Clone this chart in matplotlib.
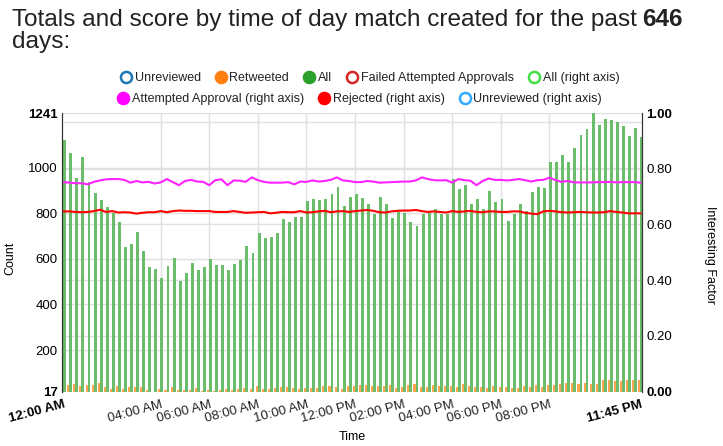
import matplotlib
matplotlib.use("Agg")
from matplotlib import pyplot as plt
from matplotlib.lines import Line2D
import numpy as np

plt.rcParams['font.family'] = ['Liberation Sans', 'DejaVu Sans']

# green bars, 96 quarter hour slots
all_counts = [1123, 1065, 956, 1047, 940, 889, 861, 830, 802, 761, 654, 665, 717, 634, 564, 555,
              517, 569, 603, 503, 540, 583, 553, 565, 599, 574, 572, 552, 578, 596, 656, 624,
              716, 691, 697, 714, 776, 761, 783, 785, 854, 862, 861, 862, 884, 917, 832, 874,
              887, 867, 843, 799, 873, 843, 779, 808, 802, 764, 745, 796, 802, 818, 799, 796,
              952, 906, 924, 842, 864, 818, 898, 852, 862, 767, 798, 840, 811, 896, 918, 912,
              1026, 1026, 1056, 1024, 1088, 1144, 1172, 1241, 1189, 1216, 1211, 1202, 1185, 1141, 1174, 1136]
retweeted = [61, 48, 52, 42, 48, 48, 57, 36, 30, 42, 30, 36, 36, 36, 26, 15,
             29, 26, 36, 26, 26, 26, 35, 21, 26, 21, 26, 30, 24, 30, 35, 30,
             43, 30, 30, 35, 39, 38, 35, 29, 33, 33, 35, 42, 42, 38, 27, 43,
             42, 48, 48, 42, 42, 43, 48, 35, 39, 48, 52, 39, 38, 48, 42, 42,
             43, 36, 49, 40, 38, 38, 35, 43, 39, 39, 35, 35, 42, 36, 46, 39,
             48, 46, 52, 57, 57, 51, 57, 52, 52, 68, 70, 65, 65, 70, 70, 68]
attempted = [0.752, 0.750, 0.748, 0.748, 0.744, 0.753, 0.758, 0.762, 0.763, 0.763, 0.760, 0.750,
             0.756, 0.751, 0.753, 0.747, 0.751, 0.763, 0.752, 0.741, 0.756, 0.760, 0.754, 0.753,
             0.741, 0.759, 0.762, 0.741, 0.758, 0.757, 0.753, 0.769, 0.759, 0.753, 0.750, 0.750,
             0.750, 0.752, 0.744, 0.754, 0.753, 0.758, 0.754, 0.756, 0.760, 0.769, 0.758, 0.756,
             0.752, 0.752, 0.756, 0.754, 0.750, 0.751, 0.752, 0.753, 0.754, 0.754, 0.758, 0.769,
             0.763, 0.759, 0.758, 0.759, 0.750, 0.763, 0.759, 0.757, 0.741, 0.756, 0.765, 0.760,
             0.760, 0.758, 0.760, 0.763, 0.759, 0.754, 0.759, 0.760, 0.768, 0.759, 0.753, 0.756,
             0.751, 0.751, 0.751, 0.751, 0.752, 0.752, 0.753, 0.751, 0.752, 0.752, 0.752, 0.750]
rejected = [0.647, 0.647, 0.645, 0.644, 0.645, 0.648, 0.653, 0.645, 0.648, 0.643, 0.644, 0.643,
            0.639, 0.642, 0.644, 0.644, 0.648, 0.644, 0.648, 0.650, 0.649, 0.649, 0.648, 0.648,
            0.648, 0.645, 0.645, 0.645, 0.648, 0.645, 0.642, 0.643, 0.644, 0.645, 0.640, 0.642,
            0.645, 0.644, 0.644, 0.648, 0.643, 0.644, 0.647, 0.649, 0.644, 0.647, 0.648, 0.645,
            0.648, 0.650, 0.652, 0.649, 0.644, 0.643, 0.647, 0.649, 0.650, 0.650, 0.652, 0.648,
            0.645, 0.647, 0.645, 0.643, 0.648, 0.645, 0.647, 0.649, 0.645, 0.644, 0.647, 0.647,
            0.645, 0.645, 0.647, 0.647, 0.642, 0.639, 0.637, 0.647, 0.649, 0.647, 0.644, 0.643,
            0.644, 0.645, 0.644, 0.643, 0.643, 0.644, 0.648, 0.645, 0.643, 0.640, 0.640, 0.640]

tick_hours = [0, 4, 6, 8, 10, 12, 14, 16, 18, 20, 23.75]
tick_labels = ["12:00 AM", "04:00 AM", "06:00 AM", "08:00 AM", "10:00 AM", "12:00 PM",
               "02:00 PM", "04:00 PM", "06:00 PM", "08:00 PM", "11:45 PM"]
y_ticks = [17, 200, 400, 600, 800, 1000, 1200, 1241]
y_labels = ["17", "200", "400", "600", "800", "1000", "", "1241"]
y2_ticks = [0, 0.2, 0.4, 0.6, 0.8, 1.0]

GRID = "#e0e0e0"
TXT = "#222222"

fig = plt.figure(figsize=(7.23, 4.46), dpi=100)
W, H = 723, 446
ax = fig.add_axes([62 / W, 1 - 391.7 / H, 580 / W, 278.7 / H])
ax2 = ax.twinx()

x = np.arange(len(all_counts))
ax.bar(x - 0.15, retweeted, width=0.45, color="#ffa552", zorder=2)
ax.bar(x + 0.2, all_counts, width=0.48, color="#6bbc6b", zorder=2)

ax.set_xlim(-0.25, 95.25)
ax.set_ylim(17, 1241)
ax2.set_ylim(0, 1)

# grid: left ticks, right ticks (mapped onto left scale), and 2h verticals
for v in y_ticks[1:]:
    ax.axhline(v, color=GRID, lw=1, zorder=0)
for r in y2_ticks[1:-1]:
    ax.axhline(17 + r * (1241 - 17), color=GRID, lw=1, zorder=0)
tick_pos = [h * 4 for h in tick_hours]
for p in tick_pos[1:-1]:
    ax.axvline(p, color=GRID, lw=1, zorder=0)

ax2.plot(x, attempted, color="#ff22ff", lw=1.5)
ax2.plot(x, rejected, color="#ff0000", lw=1.5)

ax.set_yticks(y_ticks)
ax.set_yticklabels(y_labels)
ax2.set_yticks(y2_ticks)
ax2.set_yticklabels(["%.2f" % v for v in y2_ticks])
ax.set_xticks(tick_pos)
ax.set_xticklabels(tick_labels, rotation=15, ha="right", va="top", rotation_mode="anchor")

for a in (ax, ax2):
    a.tick_params(length=0, labelsize=9.5, colors="black")
    for s in ("top", "bottom"):
        a.spines[s].set_visible(False)
    a.spines["left"].set_color("#333333")
    a.spines["right"].set_color("#333333")
ax.tick_params(axis="x", pad=5, labelcolor=TXT)
ax.tick_params(axis="y", pad=3)
ax2.tick_params(axis="y", pad=3)

for lbl in (ax.get_yticklabels()[0], ax.get_yticklabels()[-1],
            ax2.get_yticklabels()[0], ax2.get_yticklabels()[-1],
            ax.get_xticklabels()[0], ax.get_xticklabels()[-1]):
    lbl.set_fontweight("bold")
ax.get_xticklabels()[0].set_color("black")
ax.get_xticklabels()[-1].set_color("black")

fig.text(10 / W, 1 - 258 / H, "Count", fontsize=9, rotation=90, ha="center", va="center")
fig.text(710 / W, 1 - 255 / H, "Interesting Factor", fontsize=9, rotation=270,
         ha="center", va="center")
ax.set_xlabel("Time", fontsize=9, color="black", labelpad=4)

# title with bold number
t1 = fig.text(12 / W, 1 - 26 / H, "Totals and score by time of day match created for the past",
              fontsize=17.6, color=TXT, va="baseline")
fig.canvas.draw()
ax.annotate("646", xy=(1, 0), xycoords=t1, xytext=(4, 0), textcoords="offset points",
            fontsize=17.6, fontweight="bold", color=TXT, va="bottom", annotation_clip=False)
fig.text(12 / W, 1 - 48 / H, "days:", fontsize=17.6, color=TXT, va="baseline")

# legends
def mk(face, edge):
    return Line2D([], [], linestyle="none", marker="o", markersize=8,
                  markerfacecolor=face, markeredgecolor=edge, markeredgewidth=1.8)

row1 = [mk("white", "#1f77b4"), mk("#ff7f0e", "#ff7f0e"), mk("#2ca02c", "#2ca02c"),
        mk("white", "#d62728"), mk("white", "#44dd44")]
row1_names = ["Unreviewed", "Retweeted", "All", "Failed Attempted Approvals", "All (right axis)"]
row2 = [mk("#ff00ff", "#ff00ff"), mk("#ff0000", "#ff0000"), mk("white", "#33aaff")]
row2_names = ["Attempted Approval (right axis)", "Rejected (right axis)", "Unreviewed (right axis)"]

lg1 = fig.legend(row1, row1_names, loc="center", bbox_to_anchor=(370 / W, 1 - 78 / H), ncol=5,
                 frameon=False, fontsize=9, handlelength=0.8, handletextpad=0.3,
                 columnspacing=1.2, borderpad=0)
lg2 = fig.legend(row2, row2_names, loc="center", bbox_to_anchor=(360 / W, 1 - 99 / H), ncol=3,
                 frameon=False, fontsize=9, handlelength=0.8, handletextpad=0.3,
                 columnspacing=1.2, borderpad=0)
for lg in (lg1, lg2):
    for t in lg.get_texts():
        t.set_color(TXT)

fig.savefig("out.png", dpi=100)
